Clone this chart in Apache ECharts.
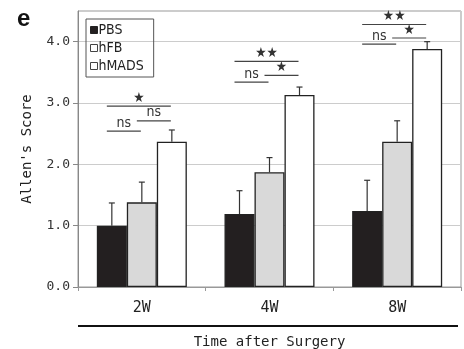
<!DOCTYPE html>
<html>
<head>
<meta charset="utf-8">
<script src="https://cdn.jsdelivr.net/npm/echarts@6/dist/echarts.min.js"></script>
<style>html,body{margin:0;padding:0;background:#fff}#c{width:464px;height:349px}</style>
</head>
<body>
<div id="c"></div>
<script>
var categories = ['2W', '4W', '8W'];
var seriesNames = ['PBS', 'hFB', 'hMADS'];
var pbs = [1.0, 1.19, 1.24];
var pbsErr = [0.37, 0.38, 0.50];
var hfb = [1.38, 1.87, 2.37];
var hfbErr = [0.33, 0.24, 0.34];
var hmads = [2.37, 3.13, 3.88];
var hmadsErr = [0.19, 0.13, 0.12];
var yTicks = [0, 1, 2, 3, 4];
// significance annotations: category index, from bar, to bar, y level, label
var sigCat = [0, 0, 0, 1, 1, 1, 2, 2, 2];
var sigFrom = [0, 0, 1, 0, 0, 1, 0, 0, 1];
var sigTo = [2, 1, 2, 2, 1, 2, 2, 1, 2];
var sigY = [2.95, 2.54, 2.71, 3.68, 3.34, 3.45, 4.28, 3.96, 4.06];
var sigText = ['★', 'ns', 'ns', '★★', 'ns', '★', '★★', 'ns', '★'];

var CAT_GAP = 0.295;
var mono = "'DejaVu Sans Mono', monospace";
var cond = "'DejaVu Sans Condensed', 'Liberation Sans Narrow', sans-serif";

var values = [pbs, hfb, hmads];
var errs = [pbsErr, hfbErr, hmadsErr];
var fills = ['#231f20', '#d9d9d9', '#ffffff'];

var errData = [];
for (var s = 0; s < 3; s++) {
  for (var i = 0; i < categories.length; i++) {
    errData.push([i, s, values[s][i], values[s][i] + errs[s][i]]);
  }
}
var sigData = [];
for (var k = 0; k < sigCat.length; k++) {
  sigData.push([sigCat[k], sigFrom[k], sigTo[k], sigY[k], sigText[k]]);
}

function barW(api) { return api.size([1, 0])[0] * (1 - CAT_GAP) / 3; }

var series = seriesNames.map(function (n, s) {
  return {
    name: n, type: 'bar', data: values[s], barGap: '0%', barCategoryGap: (CAT_GAP * 100) + '%',
    itemStyle: { color: fills[s], borderColor: '#222', borderWidth: 1.3 },
    z: 2
  };
});
series.push({
  type: 'custom', data: errData, z: 3, silent: true,
  encode: { x: 0, y: 3 },
  renderItem: function (params, api) {
    var bw = barW(api);
    var c = api.coord([api.value(0), api.value(2)]);
    var t = api.coord([api.value(0), api.value(3)]);
    var x = c[0] + (api.value(1) - 1) * bw;
    return { type: 'group', children: [
      { type: 'line', shape: { x1: x, y1: c[1], x2: x, y2: t[1] }, style: { stroke: '#333', lineWidth: 1.2 } },
      { type: 'line', shape: { x1: x - 3, y1: t[1], x2: x + 3, y2: t[1] }, style: { stroke: '#333', lineWidth: 1.2 } }
    ]};
  }
});
series.push({
  type: 'custom', data: sigData, z: 4, silent: true,
  encode: { x: 0, y: 3 },
  renderItem: function (params, api) {
    var bw = barW(api);
    var c = api.coord([api.value(0), api.value(3)]);
    var x1 = c[0] + (api.value(1) - 1) * bw - 5;
    var x2 = c[0] + (api.value(2) - 1) * bw - 1;
    var txt = sigText[params.dataIndex];
    return { type: 'group', children: [
      { type: 'line', shape: { x1: x1, y1: c[1], x2: x2, y2: c[1] }, style: { stroke: '#444', lineWidth: 1.2 } },
      { type: 'text', style: { text: txt, x: (x1 + x2) / 2, y: c[1] - 1,
        textAlign: 'center', textVerticalAlign: 'bottom',
        font: '14px ' + cond, fill: '#333' } }
    ]};
  }
});

var chart = echarts.init(document.getElementById('c'));
chart.setOption({
  animation: false,
  backgroundColor: '#fff',
  grid: { left: 78, right: 3, top: 11, bottom: 62, show: true, borderColor: '#999', borderWidth: 1,
    containLabel: false, outerBoundsMode: 'none' },
  legend: {
    orient: 'vertical', left: 86, top: 19, padding: [4, 10, 4, 4],
    borderColor: '#555', borderWidth: 1, itemGap: 4, itemWidth: 7, itemHeight: 7,
    icon: 'rect',
    textStyle: { fontFamily: cond, fontSize: 14, color: '#222', padding: [0, 0, 0, -4] },
    data: [
      { name: 'PBS', itemStyle: { color: '#231f20', borderColor: '#222', borderWidth: 1 } },
      { name: 'hFB', itemStyle: { color: '#fff', borderColor: '#444', borderWidth: 1 } },
      { name: 'hMADS', itemStyle: { color: '#fff', borderColor: '#444', borderWidth: 1 } }
    ]
  },
  xAxis: {
    type: 'category', data: categories,
    axisLine: { lineStyle: { color: '#999' } },
    axisTick: { show: true, length: 4, lineStyle: { color: '#999' } },
    axisLabel: { fontFamily: mono, fontSize: 15, color: '#222', margin: 14 },
    name: 'Time after Surgery', nameLocation: 'middle', nameGap: 48,
    nameTextStyle: { fontFamily: mono, fontSize: 14, color: '#222' }
  },
  yAxis: {
    type: 'value', min: 0, max: 4.5, interval: 1,
    axisLine: { show: true, lineStyle: { color: '#888' } },
    axisTick: { show: true, length: 5, lineStyle: { color: '#888' } },
    splitLine: { lineStyle: { color: '#ccc' } },
    axisLabel: { fontFamily: mono, fontSize: 13, color: '#333', margin: 8, showMaxLabel: false,
      formatter: function (v) { return yTicks.indexOf(v) >= 0 ? v.toFixed(1) : ''; } },
    name: "Allen's Score", nameLocation: 'middle', nameGap: 44,
    nameTextStyle: { fontFamily: mono, fontSize: 14, color: '#222' }
  },
  graphic: [
    { type: 'text', left: 17, top: 7, style: { text: 'e', font: 'bold 24px "Liberation Sans", Arial, sans-serif', fill: '#111' } },
    { type: 'line', shape: { x1: 78, y1: 326, x2: 458, y2: 326 }, style: { stroke: '#111', lineWidth: 2 } }
  ],
  series: series
});
</script>
</body>
</html>
